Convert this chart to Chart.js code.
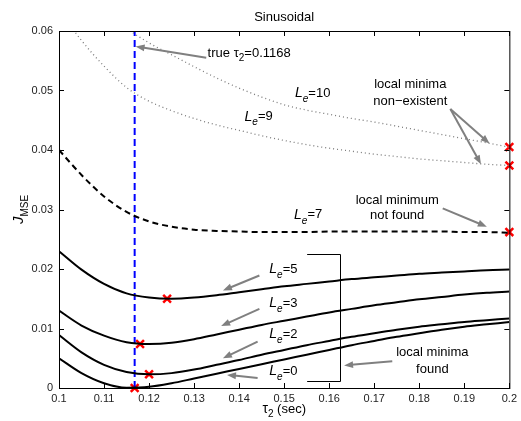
<!DOCTYPE html>
<html>
<head>
<meta charset="utf-8">
<script src="https://cdn.jsdelivr.net/npm/chart.js@4.4.1/dist/chart.umd.min.js"></script>
<style>
  html, body { margin: 0; padding: 0; background: #fff; }
  #wrap { width: 521px; height: 421px; }
</style>
</head>
<body>
<div id="wrap"><canvas id="c"></canvas></div>
<script>
// tau_2 grid (sec)
const tau = [0.100, 0.105, 0.110, 0.115, 0.120, 0.125, 0.130, 0.135, 0.140, 0.145, 0.150,
             0.155, 0.160, 0.165, 0.170, 0.175, 0.180, 0.185, 0.190, 0.195, 0.200]

// J_MSE for each equalizer length
const le0 = [0.0050, 0.0025, 0.0008, 0.00005, 0.0002, 0.0008, 0.0016, 0.0024, 0.0032, 0.0040, 0.0048,
             0.0056, 0.0064, 0.0072, 0.0079, 0.0086, 0.0092, 0.0098, 0.0103, 0.0107, 0.0111]
const le2 = [0.0089, 0.0060, 0.0039, 0.0027, 0.0023, 0.0025, 0.0031, 0.0039, 0.0047, 0.0056, 0.0064,
             0.0072, 0.0079, 0.0086, 0.0092, 0.0098, 0.0103, 0.0107, 0.0111, 0.0114, 0.0117]
const le3 = [0.0130, 0.0105, 0.0088, 0.0077, 0.0074, 0.0076, 0.0082, 0.0090, 0.0098, 0.0106, 0.0113,
             0.0120, 0.0127, 0.0133, 0.0139, 0.0144, 0.0149, 0.0153, 0.0157, 0.0160, 0.0162]
const le5 = [0.0230, 0.0199, 0.0175, 0.0159, 0.0152, 0.0150, 0.0152, 0.0156, 0.0161, 0.0166, 0.0171,
             0.0175, 0.0179, 0.0183, 0.0186, 0.0189, 0.0192, 0.0194, 0.0196, 0.0198, 0.0199]
const le7 = [0.0400, 0.0358, 0.0322, 0.0296, 0.0280, 0.0271, 0.0266, 0.0264, 0.0263, 0.0262, 0.0262,
             0.0262, 0.0263, 0.0263, 0.0263, 0.0263, 0.0263, 0.0263, 0.0262, 0.0262, 0.0261]
const le9 = [0.0635, 0.0584, 0.0541, 0.0505, 0.0482, 0.0466, 0.0453, 0.0442, 0.0433, 0.0424, 0.0416,
             0.0409, 0.0403, 0.0398, 0.0393, 0.0389, 0.0385, 0.0382, 0.0379, 0.0376, 0.0374]
const le10 = [0.0700, 0.0670, 0.0640, 0.0605, 0.0580, 0.0560, 0.0540, 0.0521, 0.0504, 0.0489, 0.0476,
              0.0467, 0.0460, 0.0453, 0.0447, 0.0440, 0.0433, 0.0426, 0.0419, 0.0412, 0.0405]

// found minima (red crosses)
const minTau = [0.1168, 0.1200, 0.1180, 0.1240, 0.2000, 0.2000, 0.2000]
const minJ = [0.0000, 0.0023, 0.0074, 0.0150, 0.0262, 0.0374, 0.0405]

const trueTau = 0.1168
const yRange = [0, 0.06]

const pts = (ys) => tau.map((x, i) => ({ x, y: ys[i] }))

const solid = (ys) => ({
  data: pts(ys), borderColor: '#000', borderWidth: 2, pointRadius: 0, cubicInterpolationMode: 'monotone',
})

const FONT = "'Liberation Sans', Arial, sans-serif"

// annotation positions in data units
const leLabels = [
  { n: '10', x: 0.1524, y: 0.0495 },
  { n: '9', x: 0.1412, y: 0.0456 },
  { n: '7', x: 0.1522, y: 0.0291 },
  { n: '5', x: 0.1467, y: 0.0199 },
  { n: '3', x: 0.1467, y: 0.0142 },
  { n: '2', x: 0.1467, y: 0.0090 },
  { n: '0', x: 0.1467, y: 0.0028 },
]
const notes = [
  { lines: ['local minima', 'non\u2212existent'], x: 0.1780, y: [0.0510, 0.0482] },
  { lines: ['local minimum', 'not found'], x: 0.1751, y: [0.0315, 0.0290] },
  { lines: ['local minima', 'found'], x: 0.1829, y: [0.0059, 0.0032] },
]
const arrows = [
  [0.1327, 0.0555, 0.1170, 0.0574],
  [0.1869, 0.0469, 0.1956, 0.0411],
  [0.1869, 0.0469, 0.1937, 0.0376],
  [0.1852, 0.0302, 0.1950, 0.0271],
  [0.1445, 0.0189, 0.1364, 0.0164],
  [0.1445, 0.0133, 0.1360, 0.0104],
  [0.1441, 0.0078, 0.1364, 0.0050],
  [0.1441, 0.0017, 0.1373, 0.0022],
  [0.1740, 0.0045, 0.1633, 0.0038],
]
const bracket = { x0: 0.1551, x1: 0.1623, y0: 0.0012, y1: 0.0225 }

function rich(ctx, segs, x, y, align) {
  let w = 0
  segs.forEach((s) => { ctx.font = s.font; w += ctx.measureText(s.t).width })
  let cx = align === 'center' ? x - w / 2 : x
  ctx.textAlign = 'left'
  ctx.textBaseline = 'middle'
  segs.forEach((s) => {
    ctx.font = s.font
    ctx.fillText(s.t, cx, y + (s.dy || 0))
    cx += ctx.measureText(s.t).width
  })
}

function arrow(ctx, x0, y0, x1, y1) {
  const a = Math.atan2(y1 - y0, x1 - x0)
  const len = 9, hw = 3.5
  ctx.beginPath()
  ctx.moveTo(x0, y0)
  ctx.lineTo(x1 - Math.cos(a) * len * 0.8, y1 - Math.sin(a) * len * 0.8)
  ctx.stroke()
  ctx.beginPath()
  ctx.moveTo(x1, y1)
  ctx.lineTo(x1 - Math.cos(a) * len - Math.sin(a) * hw, y1 - Math.sin(a) * len + Math.cos(a) * hw)
  ctx.lineTo(x1 - Math.cos(a) * len + Math.sin(a) * hw, y1 - Math.sin(a) * len - Math.cos(a) * hw)
  ctx.closePath()
  ctx.fill()
}

const decorations = {
  id: 'decorations',
  afterDraw(chart) {
    const { ctx, chartArea: { left, right, top, bottom }, scales: { x, y } } = chart
    ctx.save()

    // box and inward ticks
    ctx.strokeStyle = '#000'
    ctx.lineWidth = 1
    ctx.strokeRect(left + 0.5, top + 0.5, right - left, bottom - top)
    ctx.beginPath()
    x.ticks.forEach((t) => {
      const px = Math.round(x.getPixelForValue(t.value)) + 0.5
      ctx.moveTo(px, bottom); ctx.lineTo(px, bottom - 5)
      ctx.moveTo(px, top); ctx.lineTo(px, top + 5)
    })
    y.ticks.forEach((t) => {
      const py = Math.round(y.getPixelForValue(t.value)) + 0.5
      ctx.moveTo(left, py); ctx.lineTo(left + 5, py)
      ctx.moveTo(right, py); ctx.lineTo(right - 5, py)
    })
    ctx.stroke()

    ctx.fillStyle = '#000'
    // title
    rich(ctx, [{ t: 'Sinusoidal', font: `13px ${FONT}` }], (left + right) / 2, 17, 'center')
    // x label
    rich(ctx, [
      { t: '\u03c4', font: `14px ${FONT}` },
      { t: '2', font: `10px ${FONT}`, dy: 5 },
      { t: ' (sec)', font: `13px ${FONT}` },
    ], (left + right) / 2, 409, 'center')
    // y label
    ctx.save()
    ctx.translate(19, (top + bottom) / 2)
    ctx.rotate(-Math.PI / 2)
    rich(ctx, [
      { t: 'J', font: `italic 15px ${FONT}` },
      { t: 'MSE', font: `10px ${FONT}`, dy: 6 },
    ], 0, 0, 'center')
    ctx.restore()

    // true tau label
    rich(ctx, [
      { t: 'true \u03c4', font: `13px ${FONT}` },
      { t: '2', font: `10px ${FONT}`, dy: 5 },
      { t: '=' + trueTau, font: `13px ${FONT}` },
    ], x.getPixelForValue(0.1330), y.getPixelForValue(0.0563), 'left')

    leLabels.forEach((l) => {
      rich(ctx, [
        { t: 'L', font: `italic 14px ${FONT}` },
        { t: 'e', font: `italic 10px ${FONT}`, dy: 6 },
        { t: '=' + l.n, font: `13px ${FONT}` },
      ], x.getPixelForValue(l.x), y.getPixelForValue(l.y), 'left')
    })

    notes.forEach((n) => {
      n.lines.forEach((s, i) => {
        rich(ctx, [{ t: s, font: `13px ${FONT}` }], x.getPixelForValue(n.x), y.getPixelForValue(n.y[i]), 'center')
      })
    })

    // bracket
    ctx.strokeStyle = '#000'
    ctx.lineWidth = 1
    const bx0 = x.getPixelForValue(bracket.x0), bx1 = Math.round(x.getPixelForValue(bracket.x1)) + 0.5
    const by0 = Math.round(y.getPixelForValue(bracket.y0)) + 0.5, by1 = Math.round(y.getPixelForValue(bracket.y1)) + 0.5
    ctx.beginPath()
    ctx.moveTo(bx0, by1); ctx.lineTo(bx1, by1); ctx.lineTo(bx1, by0); ctx.lineTo(bx0, by0)
    ctx.stroke()

    // arrows
    ctx.strokeStyle = '#808080'
    ctx.fillStyle = '#808080'
    ctx.lineWidth = 2
    arrows.forEach((a) => {
      arrow(ctx, x.getPixelForValue(a[0]), y.getPixelForValue(a[1]), x.getPixelForValue(a[2]), y.getPixelForValue(a[3]))
    })
    ctx.restore()
  },
}

new Chart(document.getElementById('c'), {
  type: 'line',
  data: {
    datasets: [
      { data: pts(le10), borderColor: '#7a7a7a', borderWidth: 1.3, borderDash: [1, 3], pointRadius: 0, cubicInterpolationMode: 'monotone' },
      { data: pts(le9), borderColor: '#7a7a7a', borderWidth: 1.3, borderDash: [1, 3], pointRadius: 0, cubicInterpolationMode: 'monotone' },
      { ...solid(le7), borderDash: [6, 4] },
      solid(le5),
      solid(le3),
      solid(le2),
      solid(le0),
      {
        data: [{ x: trueTau, y: yRange[0] }, { x: trueTau, y: yRange[1] }],
        borderColor: '#0000ff', borderWidth: 2, borderDash: [7, 4], pointRadius: 0,
      },
      {
        data: minTau.map((x, i) => ({ x, y: minJ[i] })),
        showLine: false, pointStyle: 'crossRot', pointRadius: 5.5, borderWidth: 2.5,
        pointBorderColor: '#ff0000', borderColor: '#ff0000', clip: false,
      },
    ],
  },
  options: {
    responsive: true,
    maintainAspectRatio: false,
    animation: false,
    layout: { padding: { left: 0, top: 31, right: 10, bottom: 0 } },
    plugins: {
      legend: { display: false },
      tooltip: { enabled: false },
    },
    scales: {
      x: {
        type: 'linear',
        min: 0.1,
        max: 0.2,
        grid: { display: false, drawTicks: false },
        border: { display: false },
        afterFit: (s) => { s.height = 33 },
        ticks: {
          stepSize: 0.01,
          padding: 4,
          color: '#222',
          font: { family: FONT, size: 11 },
          maxRotation: 0,
          callback: (v) => String(+v.toFixed(2)),
        },
      },
      y: {
        min: yRange[0],
        max: yRange[1],
        grid: { display: false, drawTicks: false },
        border: { display: false },
        afterFit: (s) => { s.width = 59 },
        ticks: {
          stepSize: 0.01,
          padding: 6,
          color: '#222',
          font: { family: FONT, size: 11 },
          callback: (v) => String(+v.toFixed(2)),
        },
      },
    },
  },
  plugins: [decorations],
})
</script>
</body>
</html>
